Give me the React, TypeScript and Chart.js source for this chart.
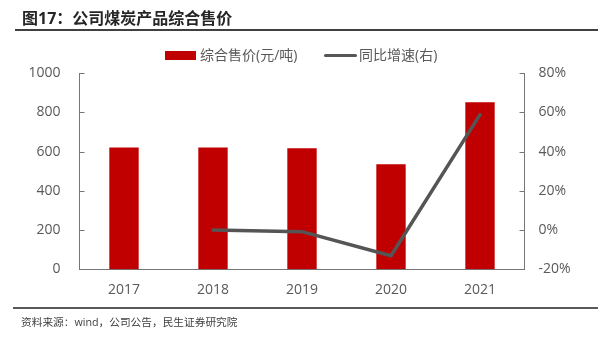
import React, { useEffect, useRef } from 'react';
import { Chart, registerables } from 'chart.js';

Chart.register(...registerables);

const categories = ['2017', '2018', '2019', '2020', '2021'];
const priceValues = [622, 622, 617, 536, 852];
const growthValues: (number | null)[] = [null, 0, -0.8, -13.1, 58.9];
const leftTicks = [0, 200, 400, 600, 800, 1000];
const rightTicks = [-20, 0, 20, 40, 60, 80];
const seriesNames = ['综合售价(元/吨)', '同比增速(右)'];
const titleText = '图17：公司煤炭产品综合售价';
const sourceText = '资料来源：wind，公司公告，民生证券研究院';

const BAR_COLOR = '#C00000';
const LINE_COLOR = '#555555';
const AXIS_COLOR = '#767676';
const TEXT_COLOR = '#595959';
const FONT = '"Open Sans", "Noto Sans CJK SC", sans-serif';

const W = 598;
const H = 341;
const AREA_LEFT = 79.5;
const AREA_RIGHT = 524.5;
const AREA_TOP = 73.3;
const AREA_BOTTOM = 269.3;

const innerTicks = {
  id: 'innerTicks',
  afterDraw(chart: any) {
    const ctx = chart.ctx;
    const a = chart.chartArea;
    ctx.save();
    ctx.strokeStyle = AXIS_COLOR;
    ctx.lineWidth = 1;
    const ys = chart.scales.y;
    ys.ticks.forEach((_t: any, i: number) => {
      const y = Math.round(ys.getPixelForTick(i)) + 0.5;
      ctx.beginPath();
      ctx.moveTo(a.left, y);
      ctx.lineTo(a.left + 5, y);
      ctx.stroke();
    });
    const y1 = chart.scales.y1;
    y1.ticks.forEach((_t: any, i: number) => {
      const y = Math.round(y1.getPixelForTick(i)) + 0.5;
      ctx.beginPath();
      ctx.moveTo(a.right, y);
      ctx.lineTo(a.right - 5, y);
      ctx.stroke();
    });
    ctx.restore();
  },
};

export default function App() {
  const canvasRef = useRef<HTMLCanvasElement | null>(null);

  useEffect(() => {
    if (!canvasRef.current) return;
    const chart = new Chart(canvasRef.current, {
      type: 'bar',
      data: {
        labels: categories,
        datasets: [
          {
            type: 'line',
            label: seriesNames[1],
            data: growthValues,
            yAxisID: 'y1',
            borderColor: LINE_COLOR,
            backgroundColor: LINE_COLOR,
            borderWidth: 3.5,
            pointRadius: 0,
            borderCapStyle: 'round',
            borderJoinStyle: 'round',
            tension: 0,
            order: 0,
          } as any,
          {
            type: 'bar',
            label: seriesNames[0],
            data: priceValues,
            yAxisID: 'y',
            backgroundColor: BAR_COLOR,
            borderWidth: 0,
            barPercentage: 0.33,
            categoryPercentage: 1,
            order: 1,
          } as any,
        ],
      },
      options: {
        responsive: false,
        animation: false,
        devicePixelRatio: 1,
        layout: { padding: { top: AREA_TOP, left: 0, right: 0, bottom: 0 } },
        plugins: {
          legend: { display: false },
          tooltip: { enabled: false },
        },
        scales: {
          x: {
            grid: { display: false, drawTicks: false },
            border: { display: true, color: AXIS_COLOR, width: 1 },
            ticks: { color: TEXT_COLOR, font: { family: FONT, size: 14 }, padding: 12 },
            afterFit: (s: any) => {
              s.height = H - AREA_BOTTOM;
            },
          },
          y: {
            position: 'left',
            min: leftTicks[0],
            max: leftTicks[leftTicks.length - 1],
            grid: { display: false, drawTicks: false },
            border: { display: true, color: AXIS_COLOR, width: 1 },
            ticks: {
              stepSize: leftTicks[1] - leftTicks[0],
              color: TEXT_COLOR,
              font: { family: FONT, size: 14 },
              padding: 19,
              callback: (v: any) => String(v),
            },
            afterFit: (s: any) => {
              s.width = AREA_LEFT;
            },
          },
          y1: {
            position: 'right',
            min: rightTicks[0],
            max: rightTicks[rightTicks.length - 1],
            grid: { display: false, drawTicks: false },
            border: { display: true, color: AXIS_COLOR, width: 1 },
            ticks: {
              stepSize: rightTicks[1] - rightTicks[0],
              color: TEXT_COLOR,
              font: { family: FONT, size: 14 },
              padding: 14,
              callback: (v: any) => v + '%',
            },
            afterFit: (s: any) => {
              s.width = W - AREA_RIGHT;
            },
          },
        },
      },
      plugins: [innerTicks],
    });
    return () => chart.destroy();
  }, []);

  return (
    <div
      style={{
        position: 'absolute',
        left: 0,
        top: 0,
        width: W,
        height: H,
        overflow: 'hidden',
        background: '#fff',
        fontFamily: FONT,
      }}
    >
      <canvas ref={canvasRef} width={W} height={H} style={{ position: 'absolute', left: 0, top: 0 }} />
      <div
        style={{
          position: 'absolute',
          left: 22,
          top: 7,
          fontSize: 16,
          lineHeight: '22px',
          fontWeight: 'bold',
          color: '#262626',
          whiteSpace: 'nowrap',
        }}
      >
        {titleText}
      </div>
      <div style={{ position: 'absolute', left: 15, top: 29, width: W - 15, height: 2, background: '#404040' }} />
      {/* legend */}
      <div style={{ position: 'absolute', left: 165, top: 51, width: 31, height: 9, background: BAR_COLOR }} />
      <div
        style={{
          position: 'absolute',
          left: 200,
          top: 45,
          fontSize: 14,
          lineHeight: '20px',
          color: TEXT_COLOR,
          whiteSpace: 'nowrap',
        }}
      >
        {seriesNames[0]}
      </div>
      <div style={{ position: 'absolute', left: 324, top: 53.5, width: 33, height: 3.5, background: LINE_COLOR, borderRadius: 2 }} />
      <div
        style={{
          position: 'absolute',
          left: 359,
          top: 45,
          fontSize: 14,
          lineHeight: '20px',
          color: TEXT_COLOR,
          whiteSpace: 'nowrap',
        }}
      >
        {seriesNames[1]}
      </div>
      <div style={{ position: 'absolute', left: 13, top: 306.7, width: W - 13, height: 2, background: '#595959' }} />
      <div
        style={{
          position: 'absolute',
          left: 21,
          top: 313,
          fontSize: 10.7,
          lineHeight: '18px',
          color: '#404040',
          whiteSpace: 'nowrap',
        }}
      >
        {sourceText}
      </div>
    </div>
  );
}
